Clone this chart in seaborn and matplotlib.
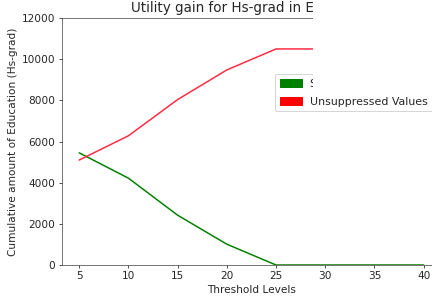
import matplotlib
matplotlib.use("Agg")
import matplotlib.pyplot as plt
import matplotlib.patches as patches
import seaborn as sns
import pandas as pd

threshold_levels = [5, 10, 15, 20, 25, 30, 35, 40]
suppressed_values = [5450, 4220, 2420, 1010, 0, 0, 0, 0]
unsuppressed_values = [5100, 6280, 8040, 9480, 10500, 10500, 10500, 10500]

df = pd.DataFrame({
    'threshold': threshold_levels * 2,
    'amount': suppressed_values + unsuppressed_values,
    'kind': ['Suppressed Values'] * len(threshold_levels) + ['Unsuppressed Values'] * len(threshold_levels),
})

sns.set_style("white")
fig = plt.figure(figsize=(6, 300 / 72), dpi=72)
ax = fig.add_axes([0.1435, 0.1167, 0.877, 0.823])

sns.lineplot(data=df, x='threshold', y='amount', hue='kind',
             palette={'Suppressed Values': 'green', 'Unsuppressed Values': '#ff2a40'},
             linewidth=1.5, ax=ax, legend=False)

ax.set_ylim(0, 12000)
ax.set_xticks([5, 10, 15, 20, 25, 30, 35, 40])
ax.set_yticks([0, 2000, 4000, 6000, 8000, 10000, 12000])
ax.tick_params(axis='both', labelsize=10.5, length=3, bottom=True, left=True)
for s in ax.spines.values():
    s.set_color('#555555')
ax.set_xlabel('Threshold Levels', fontsize=10.5)
ax.set_ylabel('Cumulative amount of Education (Hs-grad)', fontsize=10.5)
ax.set_title('Utility gain for Hs-grad in Education', fontsize=13.5)

handles = [patches.Patch(color='green', label='Suppressed Values'),
           patches.Patch(color='red', label='Unsuppressed Values')]
ax.legend(handles=handles, loc='upper left', bbox_to_anchor=(0.548, 0.795), fontsize=11,
          labelspacing=0.75)

# white block over the top right, as in the source picture
fig.patches.append(patches.Rectangle((313 / 432, 0.70), 1, 0.31, transform=fig.transFigure,
                                     facecolor='white', edgecolor='none', zorder=10))

plt.savefig('out.png', dpi=72)
